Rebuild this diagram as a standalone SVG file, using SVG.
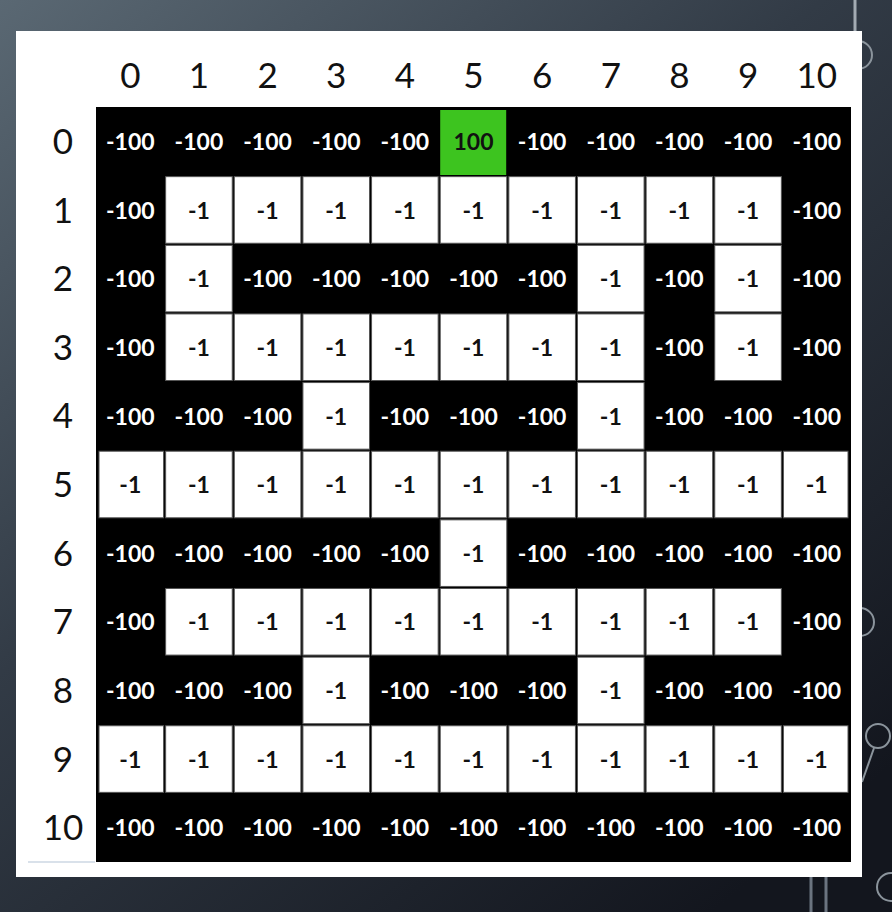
<svg xmlns="http://www.w3.org/2000/svg" width="892" height="912" viewBox="0 0 892 912">
<defs>
<linearGradient id="bg" x1="0" y1="0" x2="0.8" y2="1">
<stop offset="0" stop-color="#5a6873"/>
<stop offset="0.45" stop-color="#323b46"/>
<stop offset="1" stop-color="#13161e"/>
</linearGradient>
<style>
.k{fill:#000}
.w{fill:#fff;stroke:#555;stroke-width:1}
.g{fill:#3dc41f}
.tw{font-family:Lato,"Liberation Sans",sans-serif;font-weight:700;font-size:23px;fill:#fff;text-anchor:middle}
.tb{font-family:Lato,"Liberation Sans",sans-serif;font-weight:700;font-size:23px;fill:#111;text-anchor:middle}
.hd{font-family:Lato,"Liberation Sans",sans-serif;font-weight:400;font-size:35px;fill:#111;text-anchor:middle}
.deco{fill:none;stroke:#8b949c;stroke-width:2}
</style>
</defs>
<rect width="892" height="912" fill="url(#bg)"/>
<g id="decoration">
<line x1="855" y1="0" x2="855" y2="31" stroke="#a3abb3" stroke-width="3"/>
<circle class="deco" cx="858" cy="55" r="14"/>
<circle class="deco" cx="860" cy="622" r="14"/>
<circle class="deco" cx="878" cy="736" r="12"/>
<line class="deco" x1="874" y1="748" x2="862" y2="782"/>
<circle class="deco" cx="891" cy="887" r="14"/>
<line x1="811" y1="877" x2="811" y2="912" stroke="#6b7480" stroke-width="3"/>
<line x1="826" y1="877" x2="826" y2="912" stroke="#6b7480" stroke-width="3"/>
</g>
<rect id="card" x="16" y="31" width="846" height="846" fill="#fff"/>
<line x1="28" y1="862" x2="95" y2="862" stroke="#c9d5e2" stroke-width="2" opacity="0.7"/>
<g id="col-headers">
<text class="hd" x="130.3" y="88">0</text>
<text class="hd" x="199" y="88">1</text>
<text class="hd" x="267.6" y="88">2</text>
<text class="hd" x="336.2" y="88">3</text>
<text class="hd" x="404.9" y="88">4</text>
<text class="hd" x="473.5" y="88">5</text>
<text class="hd" x="542.2" y="88">6</text>
<text class="hd" x="610.8" y="88">7</text>
<text class="hd" x="679.4" y="88">8</text>
<text class="hd" x="748.1" y="88">9</text>
<text class="hd" x="816.7" y="88">10</text>
</g>
<g id="row-headers">
<text class="hd" x="63" y="154">0</text>
<text class="hd" x="63" y="222.5">1</text>
<text class="hd" x="63" y="291.1">2</text>
<text class="hd" x="63" y="359.7">3</text>
<text class="hd" x="63" y="428.4">4</text>
<text class="hd" x="63" y="497">5</text>
<text class="hd" x="63" y="565.7">6</text>
<text class="hd" x="63" y="634.3">7</text>
<text class="hd" x="63" y="702.9">8</text>
<text class="hd" x="63" y="771.6">9</text>
<text class="hd" x="63" y="840.2">10</text>
</g>
<rect id="grid" x="96" y="107" width="755" height="755" fill="#000"/>
<g id="cells">
<!-- row 0 -->
<g id="c0-0" transform="translate(96,107)"><text class="tw" x="34.3" y="43">-100</text></g>
<g id="c0-1" transform="translate(164.64,107)"><text class="tw" x="34.3" y="43">-100</text></g>
<g id="c0-2" transform="translate(233.28,107)"><text class="tw" x="34.3" y="43">-100</text></g>
<g id="c0-3" transform="translate(301.92,107)"><text class="tw" x="34.3" y="43">-100</text></g>
<g id="c0-4" transform="translate(370.56,107)"><text class="tw" x="34.3" y="43">-100</text></g>
<g id="c0-5" transform="translate(439.2,107)"><rect class="g" x="1" y="3" width="66" height="65"/><text class="tb" x="34.3" y="43">100</text></g>
<g id="c0-6" transform="translate(507.84,107)"><text class="tw" x="34.3" y="43">-100</text></g>
<g id="c0-7" transform="translate(576.48,107)"><text class="tw" x="34.3" y="43">-100</text></g>
<g id="c0-8" transform="translate(645.12,107)"><text class="tw" x="34.3" y="43">-100</text></g>
<g id="c0-9" transform="translate(713.76,107)"><text class="tw" x="34.3" y="43">-100</text></g>
<g id="c0-10" transform="translate(782.4,107)"><text class="tw" x="34.3" y="43">-100</text></g>
<!-- row 1 -->
<g id="c1-0" transform="translate(96,175.64)"><text class="tw" x="34.3" y="43">-100</text></g>
<g id="c1-1" transform="translate(164.64,175.64)"><rect class="w" x="1" y="1" width="66.6" height="66.6"/><text class="tb" x="34.3" y="43">-1</text></g>
<g id="c1-2" transform="translate(233.28,175.64)"><rect class="w" x="1" y="1" width="66.6" height="66.6"/><text class="tb" x="34.3" y="43">-1</text></g>
<g id="c1-3" transform="translate(301.92,175.64)"><rect class="w" x="1" y="1" width="66.6" height="66.6"/><text class="tb" x="34.3" y="43">-1</text></g>
<g id="c1-4" transform="translate(370.56,175.64)"><rect class="w" x="1" y="1" width="66.6" height="66.6"/><text class="tb" x="34.3" y="43">-1</text></g>
<g id="c1-5" transform="translate(439.2,175.64)"><rect class="w" x="1" y="1" width="66.6" height="66.6"/><text class="tb" x="34.3" y="43">-1</text></g>
<g id="c1-6" transform="translate(507.84,175.64)"><rect class="w" x="1" y="1" width="66.6" height="66.6"/><text class="tb" x="34.3" y="43">-1</text></g>
<g id="c1-7" transform="translate(576.48,175.64)"><rect class="w" x="1" y="1" width="66.6" height="66.6"/><text class="tb" x="34.3" y="43">-1</text></g>
<g id="c1-8" transform="translate(645.12,175.64)"><rect class="w" x="1" y="1" width="66.6" height="66.6"/><text class="tb" x="34.3" y="43">-1</text></g>
<g id="c1-9" transform="translate(713.76,175.64)"><rect class="w" x="1" y="1" width="66.6" height="66.6"/><text class="tb" x="34.3" y="43">-1</text></g>
<g id="c1-10" transform="translate(782.4,175.64)"><text class="tw" x="34.3" y="43">-100</text></g>
<!-- row 2 -->
<g id="c2-0" transform="translate(96,244.28)"><text class="tw" x="34.3" y="43">-100</text></g>
<g id="c2-1" transform="translate(164.64,244.28)"><rect class="w" x="1" y="1" width="66.6" height="66.6"/><text class="tb" x="34.3" y="43">-1</text></g>
<g id="c2-2" transform="translate(233.28,244.28)"><text class="tw" x="34.3" y="43">-100</text></g>
<g id="c2-3" transform="translate(301.92,244.28)"><text class="tw" x="34.3" y="43">-100</text></g>
<g id="c2-4" transform="translate(370.56,244.28)"><text class="tw" x="34.3" y="43">-100</text></g>
<g id="c2-5" transform="translate(439.2,244.28)"><text class="tw" x="34.3" y="43">-100</text></g>
<g id="c2-6" transform="translate(507.84,244.28)"><text class="tw" x="34.3" y="43">-100</text></g>
<g id="c2-7" transform="translate(576.48,244.28)"><rect class="w" x="1" y="1" width="66.6" height="66.6"/><text class="tb" x="34.3" y="43">-1</text></g>
<g id="c2-8" transform="translate(645.12,244.28)"><text class="tw" x="34.3" y="43">-100</text></g>
<g id="c2-9" transform="translate(713.76,244.28)"><rect class="w" x="1" y="1" width="66.6" height="66.6"/><text class="tb" x="34.3" y="43">-1</text></g>
<g id="c2-10" transform="translate(782.4,244.28)"><text class="tw" x="34.3" y="43">-100</text></g>
<!-- row 3 -->
<g id="c3-0" transform="translate(96,312.92)"><text class="tw" x="34.3" y="43">-100</text></g>
<g id="c3-1" transform="translate(164.64,312.92)"><rect class="w" x="1" y="1" width="66.6" height="66.6"/><text class="tb" x="34.3" y="43">-1</text></g>
<g id="c3-2" transform="translate(233.28,312.92)"><rect class="w" x="1" y="1" width="66.6" height="66.6"/><text class="tb" x="34.3" y="43">-1</text></g>
<g id="c3-3" transform="translate(301.92,312.92)"><rect class="w" x="1" y="1" width="66.6" height="66.6"/><text class="tb" x="34.3" y="43">-1</text></g>
<g id="c3-4" transform="translate(370.56,312.92)"><rect class="w" x="1" y="1" width="66.6" height="66.6"/><text class="tb" x="34.3" y="43">-1</text></g>
<g id="c3-5" transform="translate(439.2,312.92)"><rect class="w" x="1" y="1" width="66.6" height="66.6"/><text class="tb" x="34.3" y="43">-1</text></g>
<g id="c3-6" transform="translate(507.84,312.92)"><rect class="w" x="1" y="1" width="66.6" height="66.6"/><text class="tb" x="34.3" y="43">-1</text></g>
<g id="c3-7" transform="translate(576.48,312.92)"><rect class="w" x="1" y="1" width="66.6" height="66.6"/><text class="tb" x="34.3" y="43">-1</text></g>
<g id="c3-8" transform="translate(645.12,312.92)"><text class="tw" x="34.3" y="43">-100</text></g>
<g id="c3-9" transform="translate(713.76,312.92)"><rect class="w" x="1" y="1" width="66.6" height="66.6"/><text class="tb" x="34.3" y="43">-1</text></g>
<g id="c3-10" transform="translate(782.4,312.92)"><text class="tw" x="34.3" y="43">-100</text></g>
<!-- row 4 -->
<g id="c4-0" transform="translate(96,381.56)"><text class="tw" x="34.3" y="43">-100</text></g>
<g id="c4-1" transform="translate(164.64,381.56)"><text class="tw" x="34.3" y="43">-100</text></g>
<g id="c4-2" transform="translate(233.28,381.56)"><text class="tw" x="34.3" y="43">-100</text></g>
<g id="c4-3" transform="translate(301.92,381.56)"><rect class="w" x="1" y="1" width="66.6" height="66.6"/><text class="tb" x="34.3" y="43">-1</text></g>
<g id="c4-4" transform="translate(370.56,381.56)"><text class="tw" x="34.3" y="43">-100</text></g>
<g id="c4-5" transform="translate(439.2,381.56)"><text class="tw" x="34.3" y="43">-100</text></g>
<g id="c4-6" transform="translate(507.84,381.56)"><text class="tw" x="34.3" y="43">-100</text></g>
<g id="c4-7" transform="translate(576.48,381.56)"><rect class="w" x="1" y="1" width="66.6" height="66.6"/><text class="tb" x="34.3" y="43">-1</text></g>
<g id="c4-8" transform="translate(645.12,381.56)"><text class="tw" x="34.3" y="43">-100</text></g>
<g id="c4-9" transform="translate(713.76,381.56)"><text class="tw" x="34.3" y="43">-100</text></g>
<g id="c4-10" transform="translate(782.4,381.56)"><text class="tw" x="34.3" y="43">-100</text></g>
<!-- row 5 -->
<g id="c5-0" transform="translate(96,450.2)"><rect class="w" x="3" y="1" width="64.6" height="66.6"/><text class="tb" x="34.3" y="43">-1</text></g>
<g id="c5-1" transform="translate(164.64,450.2)"><rect class="w" x="1" y="1" width="66.6" height="66.6"/><text class="tb" x="34.3" y="43">-1</text></g>
<g id="c5-2" transform="translate(233.28,450.2)"><rect class="w" x="1" y="1" width="66.6" height="66.6"/><text class="tb" x="34.3" y="43">-1</text></g>
<g id="c5-3" transform="translate(301.92,450.2)"><rect class="w" x="1" y="1" width="66.6" height="66.6"/><text class="tb" x="34.3" y="43">-1</text></g>
<g id="c5-4" transform="translate(370.56,450.2)"><rect class="w" x="1" y="1" width="66.6" height="66.6"/><text class="tb" x="34.3" y="43">-1</text></g>
<g id="c5-5" transform="translate(439.2,450.2)"><rect class="w" x="1" y="1" width="66.6" height="66.6"/><text class="tb" x="34.3" y="43">-1</text></g>
<g id="c5-6" transform="translate(507.84,450.2)"><rect class="w" x="1" y="1" width="66.6" height="66.6"/><text class="tb" x="34.3" y="43">-1</text></g>
<g id="c5-7" transform="translate(576.48,450.2)"><rect class="w" x="1" y="1" width="66.6" height="66.6"/><text class="tb" x="34.3" y="43">-1</text></g>
<g id="c5-8" transform="translate(645.12,450.2)"><rect class="w" x="1" y="1" width="66.6" height="66.6"/><text class="tb" x="34.3" y="43">-1</text></g>
<g id="c5-9" transform="translate(713.76,450.2)"><rect class="w" x="1" y="1" width="66.6" height="66.6"/><text class="tb" x="34.3" y="43">-1</text></g>
<g id="c5-10" transform="translate(782.4,450.2)"><rect class="w" x="1" y="1" width="64.6" height="66.6"/><text class="tb" x="34.3" y="43">-1</text></g>
<!-- row 6 -->
<g id="c6-0" transform="translate(96,518.84)"><text class="tw" x="34.3" y="43">-100</text></g>
<g id="c6-1" transform="translate(164.64,518.84)"><text class="tw" x="34.3" y="43">-100</text></g>
<g id="c6-2" transform="translate(233.28,518.84)"><text class="tw" x="34.3" y="43">-100</text></g>
<g id="c6-3" transform="translate(301.92,518.84)"><text class="tw" x="34.3" y="43">-100</text></g>
<g id="c6-4" transform="translate(370.56,518.84)"><text class="tw" x="34.3" y="43">-100</text></g>
<g id="c6-5" transform="translate(439.2,518.84)"><rect class="w" x="1" y="1" width="66.6" height="66.6"/><text class="tb" x="34.3" y="43">-1</text></g>
<g id="c6-6" transform="translate(507.84,518.84)"><text class="tw" x="34.3" y="43">-100</text></g>
<g id="c6-7" transform="translate(576.48,518.84)"><text class="tw" x="34.3" y="43">-100</text></g>
<g id="c6-8" transform="translate(645.12,518.84)"><text class="tw" x="34.3" y="43">-100</text></g>
<g id="c6-9" transform="translate(713.76,518.84)"><text class="tw" x="34.3" y="43">-100</text></g>
<g id="c6-10" transform="translate(782.4,518.84)"><text class="tw" x="34.3" y="43">-100</text></g>
<!-- row 7 -->
<g id="c7-0" transform="translate(96,587.48)"><text class="tw" x="34.3" y="43">-100</text></g>
<g id="c7-1" transform="translate(164.64,587.48)"><rect class="w" x="1" y="1" width="66.6" height="66.6"/><text class="tb" x="34.3" y="43">-1</text></g>
<g id="c7-2" transform="translate(233.28,587.48)"><rect class="w" x="1" y="1" width="66.6" height="66.6"/><text class="tb" x="34.3" y="43">-1</text></g>
<g id="c7-3" transform="translate(301.92,587.48)"><rect class="w" x="1" y="1" width="66.6" height="66.6"/><text class="tb" x="34.3" y="43">-1</text></g>
<g id="c7-4" transform="translate(370.56,587.48)"><rect class="w" x="1" y="1" width="66.6" height="66.6"/><text class="tb" x="34.3" y="43">-1</text></g>
<g id="c7-5" transform="translate(439.2,587.48)"><rect class="w" x="1" y="1" width="66.6" height="66.6"/><text class="tb" x="34.3" y="43">-1</text></g>
<g id="c7-6" transform="translate(507.84,587.48)"><rect class="w" x="1" y="1" width="66.6" height="66.6"/><text class="tb" x="34.3" y="43">-1</text></g>
<g id="c7-7" transform="translate(576.48,587.48)"><rect class="w" x="1" y="1" width="66.6" height="66.6"/><text class="tb" x="34.3" y="43">-1</text></g>
<g id="c7-8" transform="translate(645.12,587.48)"><rect class="w" x="1" y="1" width="66.6" height="66.6"/><text class="tb" x="34.3" y="43">-1</text></g>
<g id="c7-9" transform="translate(713.76,587.48)"><rect class="w" x="1" y="1" width="66.6" height="66.6"/><text class="tb" x="34.3" y="43">-1</text></g>
<g id="c7-10" transform="translate(782.4,587.48)"><text class="tw" x="34.3" y="43">-100</text></g>
<!-- row 8 -->
<g id="c8-0" transform="translate(96,656.12)"><text class="tw" x="34.3" y="43">-100</text></g>
<g id="c8-1" transform="translate(164.64,656.12)"><text class="tw" x="34.3" y="43">-100</text></g>
<g id="c8-2" transform="translate(233.28,656.12)"><text class="tw" x="34.3" y="43">-100</text></g>
<g id="c8-3" transform="translate(301.92,656.12)"><rect class="w" x="1" y="1" width="66.6" height="66.6"/><text class="tb" x="34.3" y="43">-1</text></g>
<g id="c8-4" transform="translate(370.56,656.12)"><text class="tw" x="34.3" y="43">-100</text></g>
<g id="c8-5" transform="translate(439.2,656.12)"><text class="tw" x="34.3" y="43">-100</text></g>
<g id="c8-6" transform="translate(507.84,656.12)"><text class="tw" x="34.3" y="43">-100</text></g>
<g id="c8-7" transform="translate(576.48,656.12)"><rect class="w" x="1" y="1" width="66.6" height="66.6"/><text class="tb" x="34.3" y="43">-1</text></g>
<g id="c8-8" transform="translate(645.12,656.12)"><text class="tw" x="34.3" y="43">-100</text></g>
<g id="c8-9" transform="translate(713.76,656.12)"><text class="tw" x="34.3" y="43">-100</text></g>
<g id="c8-10" transform="translate(782.4,656.12)"><text class="tw" x="34.3" y="43">-100</text></g>
<!-- row 9 -->
<g id="c9-0" transform="translate(96,724.76)"><rect class="w" x="3" y="1" width="64.6" height="66.6"/><text class="tb" x="34.3" y="43">-1</text></g>
<g id="c9-1" transform="translate(164.64,724.76)"><rect class="w" x="1" y="1" width="66.6" height="66.6"/><text class="tb" x="34.3" y="43">-1</text></g>
<g id="c9-2" transform="translate(233.28,724.76)"><rect class="w" x="1" y="1" width="66.6" height="66.6"/><text class="tb" x="34.3" y="43">-1</text></g>
<g id="c9-3" transform="translate(301.92,724.76)"><rect class="w" x="1" y="1" width="66.6" height="66.6"/><text class="tb" x="34.3" y="43">-1</text></g>
<g id="c9-4" transform="translate(370.56,724.76)"><rect class="w" x="1" y="1" width="66.6" height="66.6"/><text class="tb" x="34.3" y="43">-1</text></g>
<g id="c9-5" transform="translate(439.2,724.76)"><rect class="w" x="1" y="1" width="66.6" height="66.6"/><text class="tb" x="34.3" y="43">-1</text></g>
<g id="c9-6" transform="translate(507.84,724.76)"><rect class="w" x="1" y="1" width="66.6" height="66.6"/><text class="tb" x="34.3" y="43">-1</text></g>
<g id="c9-7" transform="translate(576.48,724.76)"><rect class="w" x="1" y="1" width="66.6" height="66.6"/><text class="tb" x="34.3" y="43">-1</text></g>
<g id="c9-8" transform="translate(645.12,724.76)"><rect class="w" x="1" y="1" width="66.6" height="66.6"/><text class="tb" x="34.3" y="43">-1</text></g>
<g id="c9-9" transform="translate(713.76,724.76)"><rect class="w" x="1" y="1" width="66.6" height="66.6"/><text class="tb" x="34.3" y="43">-1</text></g>
<g id="c9-10" transform="translate(782.4,724.76)"><rect class="w" x="1" y="1" width="64.6" height="66.6"/><text class="tb" x="34.3" y="43">-1</text></g>
<!-- row 10 -->
<g id="c10-0" transform="translate(96,793.4)"><text class="tw" x="34.3" y="43">-100</text></g>
<g id="c10-1" transform="translate(164.64,793.4)"><text class="tw" x="34.3" y="43">-100</text></g>
<g id="c10-2" transform="translate(233.28,793.4)"><text class="tw" x="34.3" y="43">-100</text></g>
<g id="c10-3" transform="translate(301.92,793.4)"><text class="tw" x="34.3" y="43">-100</text></g>
<g id="c10-4" transform="translate(370.56,793.4)"><text class="tw" x="34.3" y="43">-100</text></g>
<g id="c10-5" transform="translate(439.2,793.4)"><text class="tw" x="34.3" y="43">-100</text></g>
<g id="c10-6" transform="translate(507.84,793.4)"><text class="tw" x="34.3" y="43">-100</text></g>
<g id="c10-7" transform="translate(576.48,793.4)"><text class="tw" x="34.3" y="43">-100</text></g>
<g id="c10-8" transform="translate(645.12,793.4)"><text class="tw" x="34.3" y="43">-100</text></g>
<g id="c10-9" transform="translate(713.76,793.4)"><text class="tw" x="34.3" y="43">-100</text></g>
<g id="c10-10" transform="translate(782.4,793.4)"><text class="tw" x="34.3" y="43">-100</text></g>
</g>
</svg>
